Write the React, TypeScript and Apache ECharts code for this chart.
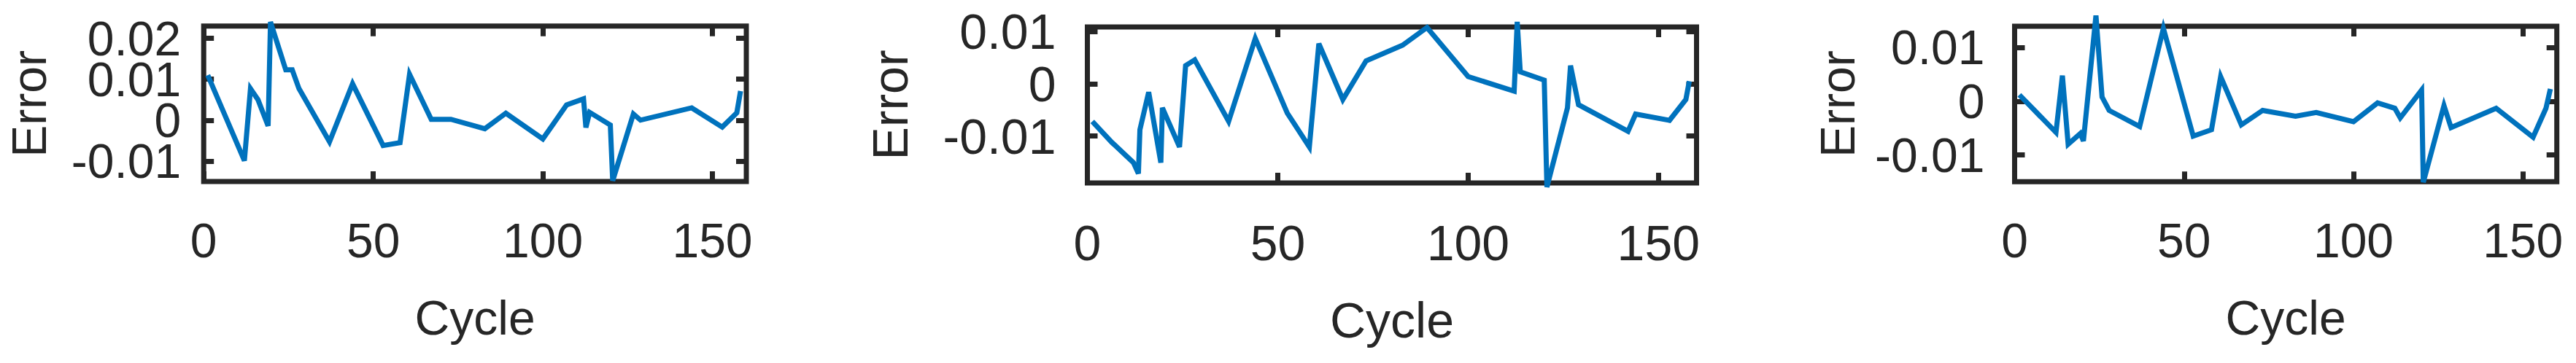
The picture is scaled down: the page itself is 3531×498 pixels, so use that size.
import React, { useEffect, useRef } from "react";
import * as echarts from "echarts";

// ---- data ----
const cycles1 = [1.2, 12, 13.8, 16, 19, 19.7, 24.2, 26.1, 28.1, 37.1, 43.9, 52.9, 57.9, 60.7, 67.1, 72.9, 82.9, 89.1, 100, 107, 112, 112.7, 113.8, 119.9, 120.6, 126.7, 128.8, 143.9, 152.9, 157.2, 158.3];
const error1 = [0.011, -0.0099, 0.0077, 0.005, -0.0014, 0.024, 0.0123, 0.0123, 0.0077, -0.0053, 0.0089, -0.0062, -0.0055, 0.0112, 0.0002, 0.0002, -0.0021, 0.0017, -0.0046, 0.0037, 0.0052, -0.0018, 0.0019, -0.0012, -0.0148, 0.0015, 0.0, 0.003, -0.0017, 0.0018, 0.0071];

const cycles2 = [1.3, 6.4, 12.1, 13.4, 13.8, 16.1, 19.3, 19.7, 24.2, 25.8, 28.2, 37.1, 44.1, 52.5, 58.3, 60.8, 67.1, 73.2, 82.8, 89.2, 100, 112.1, 112.9, 113.7, 120, 120.7, 126.1, 126.9, 129, 142, 144, 152.9, 157.2, 158.1];
const error2 = [-0.0072, -0.0112, -0.0151, -0.0172, -0.0088, -0.0016, -0.0151, -0.0046, -0.0121, 0.0035, 0.0046, -0.0072, 0.0087, -0.0056, -0.0121, 0.0077, -0.003, 0.0044, 0.0074, 0.0108, 0.0014, -0.0014, 0.0119, 0.0023, 0.0007, -0.0198, -0.0046, 0.0035, -0.004, -0.0091, -0.0058, -0.007, -0.003, 0.0005];

const cycles3 = [1.4, 12.2, 14.1, 15.8, 19.4, 20.3, 24, 25.8, 27.9, 36.9, 43.9, 52.7, 58.1, 60.8, 66.9, 73.2, 82.9, 89, 100, 107.1, 112.2, 113.8, 120.1, 120.6, 126.7, 128.8, 142.1, 153, 156.8, 158.1];
const error3 = [0.0012, -0.0058, 0.0048, -0.008, -0.006, -0.0074, 0.016, 0.0008, -0.0017, -0.0047, 0.0136, -0.0065, -0.0053, 0.0046, -0.0044, -0.0017, -0.0028, -0.0021, -0.0038, -0.0003, -0.0013, -0.0031, 0.0021, -0.0151, -0.0008, -0.0049, -0.0013, -0.0067, -0.0013, 0.0023];

const xTicks = [0, 50, 100, 150];
const xTickLabels = ["0", "50", "100", "150"];

const yTicks1 = [-0.01, 0, 0.01, 0.02];
const yTickLabels1 = ["-0.01", "0", "0.01", "0.02"];
const yTicks2 = [-0.01, 0, 0.01];
const yTickLabels2 = ["-0.01", "0", "0.01"];
const yTicks3 = [-0.01, 0, 0.01];
const yTickLabels3 = ["-0.01", "0", "0.01"];

const xRange = [0, 160];
const yRange1 = [-0.015, 0.023];
const yRange2 = [-0.019, 0.0109];
const yRange3 = [-0.015, 0.014];

const xName = "Cycle";
const yName = "Error";

// ---- styling / layout ----
const FONT = "'Liberation Sans', Arial, Helvetica, sans-serif";
const AXIS_COLOR = "#262626";
const LINE_COLOR = "#0072BD";

const panels = [
  { left: 279.2, top: 35.7, width: 743.8, height: 213.3, yRange: yRange1, yTicks: yTicks1, yLabels: yTickLabels1, cycles: cycles1, errors: error1, fontSize: 66, yMargin: 31, yNameGap: 206 },
  { left: 1490.5, top: 37, width: 835, height: 214, yRange: yRange2, yTicks: yTicks2, yLabels: yTickLabels2, cycles: cycles2, errors: error2, fontSize: 68, yMargin: 43, yNameGap: 237 },
  { left: 2761.5, top: 36, width: 743.2, height: 213.3, yRange: yRange3, yTicks: yTicks3, yLabels: yTickLabels3, cycles: cycles3, errors: error3, fontSize: 66, yMargin: 41, yNameGap: 210 },
];

const fmt = (ticks: number[], labels: string[]) => (v: number) => {
  const i = ticks.findIndex((t) => Math.abs(t - v) < 1e-9);
  return i >= 0 ? labels[i] : "";
};

function buildOption() {
  const grid: any[] = [];
  const xAxis: any[] = [];
  const yAxis: any[] = [];
  const series: any[] = [];
  panels.forEach((p, i) => {
    grid.push({
      left: p.left,
      top: p.top,
      width: p.width,
      height: p.height,
      show: true,
      borderColor: AXIS_COLOR,
      borderWidth: 7,
      backgroundColor: "transparent",
      containLabel: false,
      outerBoundsMode: "none",
    });
    const tick = (vals: number[]) => ({
      show: true,
      inside: true,
      length: 14,
      interval: 0,
      customValues: vals,
      lineStyle: { color: AXIS_COLOR, width: 7 },
    });
    const textStyle = { fontFamily: FONT, fontSize: p.fontSize, color: AXIS_COLOR };
    const hiddenLine = { show: false, onZero: false };
    // bottom x
    xAxis.push({
      type: "value",
      gridIndex: i,
      position: "bottom",
      min: xRange[0],
      max: xRange[1],
      axisLine: hiddenLine,
      axisTick: tick(xTicks),
      axisLabel: {
        ...textStyle,
        lineHeight: p.fontSize,
        show: true,
        interval: 0,
        margin: 48,
        customValues: xTicks,
        showMinLabel: true,
        showMaxLabel: true,
        hideOverlap: false,
        formatter: fmt(xTicks, xTickLabels),
      },
      splitLine: { show: false },
      name: xName,
      nameLocation: "middle",
      nameGap: 154,
      nameTextStyle: { ...textStyle, lineHeight: p.fontSize },
    });
    // top x (mirror ticks)
    xAxis.push({
      type: "value",
      gridIndex: i,
      position: "top",
      min: xRange[0],
      max: xRange[1],
      axisLine: hiddenLine,
      axisTick: tick(xTicks),
      axisLabel: { show: false },
      splitLine: { show: false },
    });
    // y tick labels are split over two left axes (alternating) so none get hidden
    const evenTicks = p.yTicks.filter((_, k) => k % 2 === 0);
    const oddTicks = p.yTicks.filter((_, k) => k % 2 === 1);
    const yLabelStyle = (vals: number[]) => ({
      ...textStyle,
      lineHeight: 40,
      padding: [8, 0, 0, 0],
      show: true,
      interval: 0,
      margin: p.yMargin,
      customValues: vals,
      showMinLabel: true,
      showMaxLabel: true,
      hideOverlap: false,
      formatter: fmt(p.yTicks, p.yLabels),
    });
    // left y (main, with ticks and name)
    yAxis.push({
      type: "value",
      gridIndex: i,
      position: "left",
      min: p.yRange[0],
      max: p.yRange[1],
      axisLine: hiddenLine,
      axisTick: tick(p.yTicks),
      axisLabel: yLabelStyle(evenTicks),
      splitLine: { show: false },
      name: yName,
      nameLocation: "middle",
      nameRotate: 90,
      nameGap: p.yNameGap,
      nameTextStyle: { ...textStyle, lineHeight: p.fontSize },
    });
    // left y (second label set)
    yAxis.push({
      type: "value",
      gridIndex: i,
      position: "left",
      offset: 0,
      min: p.yRange[0],
      max: p.yRange[1],
      axisLine: hiddenLine,
      axisTick: { show: false },
      axisLabel: yLabelStyle(oddTicks),
      splitLine: { show: false },
    });
    // right y (mirror ticks)
    yAxis.push({
      type: "value",
      gridIndex: i,
      position: "right",
      min: p.yRange[0],
      max: p.yRange[1],
      axisLine: hiddenLine,
      axisTick: tick(p.yTicks),
      axisLabel: { show: false },
      splitLine: { show: false },
    });
    series.push({
      type: "line",
      xAxisIndex: 2 * i,
      yAxisIndex: 3 * i,
      data: p.cycles.map((c, j) => [c, p.errors[j]]),
      symbol: "none",
      showSymbol: false,
      clip: false,
      silent: true,
      z: 5,
      lineStyle: { color: LINE_COLOR, width: 7, join: "miter", miterLimit: 10, cap: "butt" },
    });
  });
  return {
    animation: false,
    backgroundColor: "#ffffff",
    grid,
    xAxis,
    yAxis,
    series,
  };
}

export default function App() {
  const ref = useRef<HTMLDivElement>(null);
  useEffect(() => {
    if (!ref.current) return;
    const chart = echarts.init(ref.current, undefined, { renderer: "svg" });
    chart.setOption(buildOption() as any);
    return () => chart.dispose();
  }, []);
  return (
    <div
      ref={ref}
      style={{ position: "absolute", left: 0, top: 0, width: 3531, height: 498 }}
    />
  );
}
